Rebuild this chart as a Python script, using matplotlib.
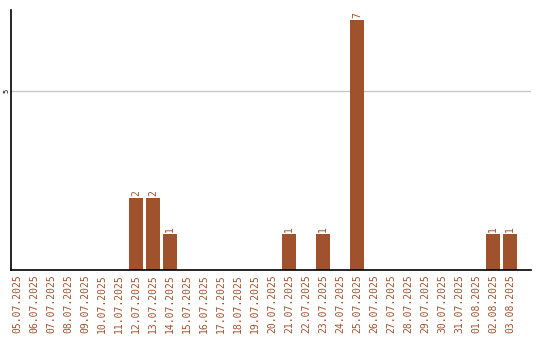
import matplotlib
matplotlib.use("Agg")
import matplotlib.pyplot as plt

dates = ["05.07.2025", "06.07.2025", "07.07.2025", "08.07.2025", "09.07.2025",
         "10.07.2025", "11.07.2025", "12.07.2025", "13.07.2025", "14.07.2025",
         "15.07.2025", "16.07.2025", "17.07.2025", "18.07.2025", "19.07.2025",
         "20.07.2025", "21.07.2025", "22.07.2025", "23.07.2025", "24.07.2025",
         "25.07.2025", "26.07.2025", "27.07.2025", "28.07.2025", "29.07.2025",
         "30.07.2025", "31.07.2025", "01.08.2025", "02.08.2025", "03.08.2025"]
counts = [0, 0, 0, 0, 0, 0, 0, 2, 2, 1,
          0, 0, 0, 0, 0, 0, 1, 0, 1, 0,
          7, 0, 0, 0, 0, 0, 0, 0, 1, 1]
y_ticks = [5]

color = "#a0522d"

fig = plt.figure(figsize=(5.4, 3.4), dpi=100)
ax = fig.add_axes([11 / 540, 70 / 340, 520 / 540, 260 / 340])

x = list(range(len(dates)))
ax.bar(x, counts, width=0.82, color=color, zorder=2)

for xi, v in zip(x, counts):
    if v > 0:
        ax.text(xi, v + 0.06, str(v), rotation=90, ha="center", va="bottom",
                fontsize=7, color=color, family="DejaVu Sans Mono")

ax.set_xlim(-0.35, len(dates) - 1 + 1.24)
ax.set_ylim(0, 7.27)
ax.set_xticks(x)
ax.set_xticklabels(dates, rotation=90, fontsize=7, color=color,
                   family="DejaVu Sans Mono")
ax.set_yticks(y_ticks)
ax.set_yticklabels([str(t) for t in y_ticks], rotation=90, fontsize=5,
                   va="center", family="DejaVu Sans Mono")
ax.tick_params(axis="x", length=0, pad=3)
ax.tick_params(axis="y", length=0, pad=1)
ax.yaxis.grid(True, color="#c8c8c8", linewidth=1)
ax.set_axisbelow(True)

for side in ("top", "right"):
    ax.spines[side].set_visible(False)
for side in ("left", "bottom"):
    ax.spines[side].set_color("black")
    ax.spines[side].set_linewidth(1.2)

fig.savefig("out.png", dpi=100)
